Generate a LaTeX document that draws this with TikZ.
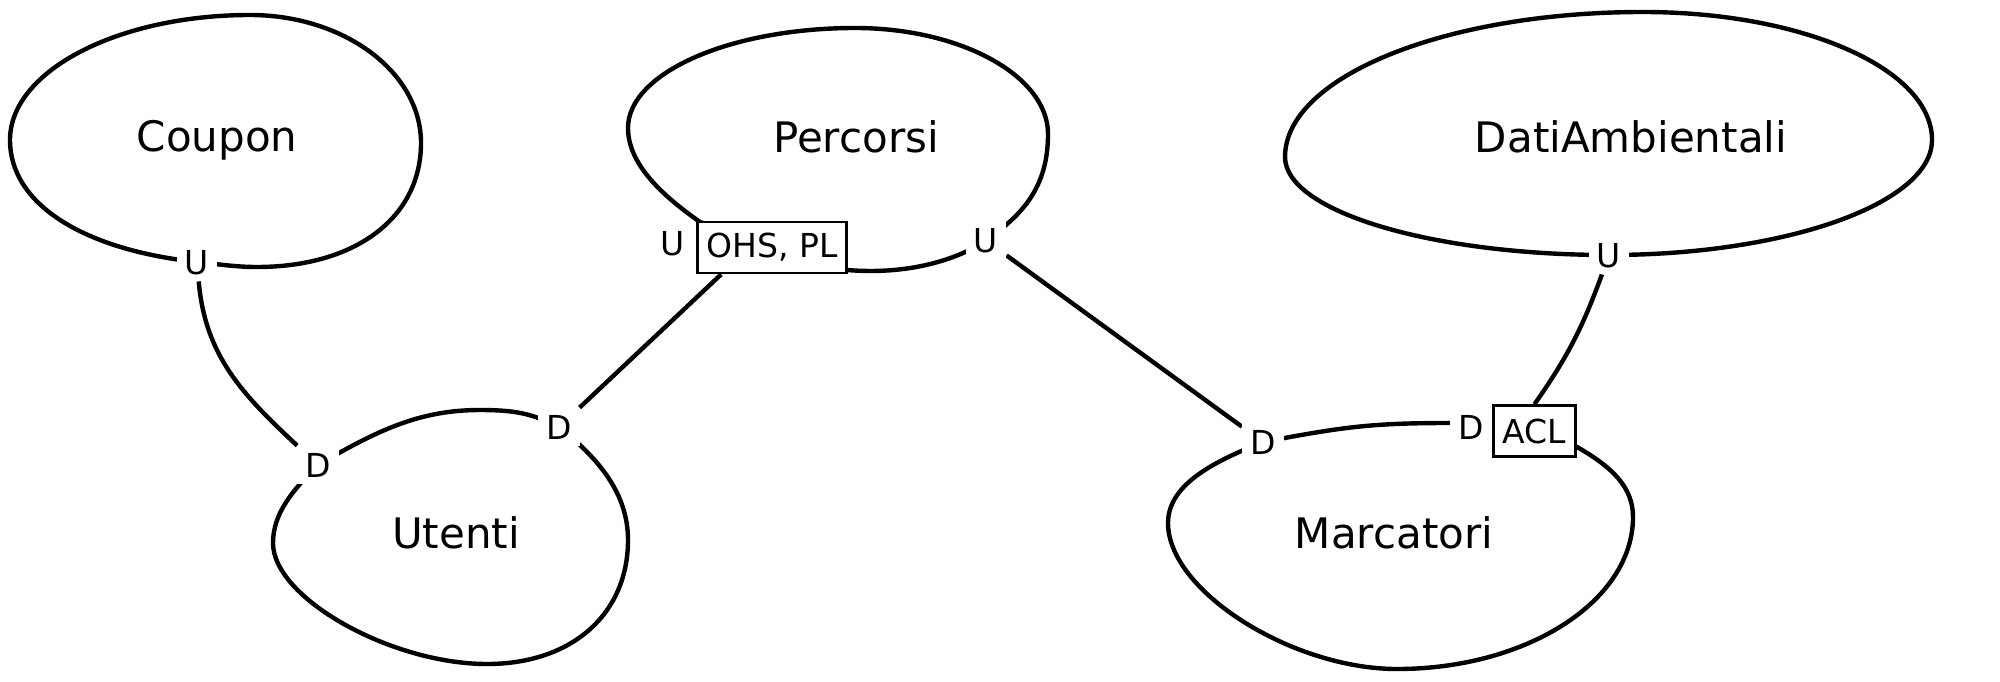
\documentclass[tikz,border=0pt]{standalone}
\usepackage{fontspec}
\setmainfont{DejaVu Sans}
\usetikzlibrary{backgrounds}

\begin{document}
\begin{tikzpicture}[
   x=0.5pt, y=0.5pt,
   entity/.style={font=\fontsize{21}{25}\selectfont, anchor=base},
   port/.style={font=\fontsize{16.5}{20}\selectfont, fill=white,
                inner xsep=4pt, inner ysep=3.5pt, text depth=0pt},
   tag/.style={draw, line width=1.35pt, fill=white,
               font=\fontsize{16.5}{20}\selectfont,
               inner xsep=4.5pt, minimum height=25.5pt},
   blob/.style={line width=2.2pt},
   link/.style={line width=2.2pt}]

\useasboundingbox (0,0) rectangle (2000,681);

\node[entity] (coupon)    at (217,529)  {Coupon};
\node[entity] (percorsi)  at (856,528)  {Percorsi};
\node[entity] (dati)      at (1631,528) {DatiAmbientali};
\node[entity] (utenti)    at (456,133)  {Utenti};
\node[entity] (marcatori) at (1394,133) {Marcatori};

\node[port] (cU)  at (197,419)    {U};
\node[port] (uD1) at (318,216)    {D};
\node[port] (uD2) at (559,254)    {D};
\node[port] (pUl) at (673,437.5)  {U};
\node[tag]  (pBox) at (772,433.5) {OHS, PL};
\node[port] (pU)  at (986,440.5)  {U};
\node[port] (mD1) at (1263,239)   {D};
\node[port] (mD2) at (1471,253.5) {D};
\node[tag]  (mBox) at (1534.5,250) {ACL};
\node[port] (dU)  at (1609,426)   {U};

\begin{pgfonlayer}{background}
\draw[blob] (cU.center) .. controls +(-112,12) and +(0,-65) .. (10,541)
    .. controls +(0,69) and +(-132,0) .. (250,666)
    .. controls +(94,0) and +(0,71) .. (421,538)
    .. controls +(0,-75) and +(98,0) .. (257,414)
    .. controls +(-22,0) and +(20,-2) .. (cU.center);
\draw[blob] (uD1.center) .. controls +(60,35) and +(-60,0) .. (480,271)
    .. controls +(40,0) and +(-25,12) .. (uD2.center)
    .. controls +(35,-28) and +(0,50) .. (628,141)
    .. controls +(0,-74) and +(85,0) .. (487,17)
    .. controls +(-96,0) and +(0,-55) .. (273,138)
    .. controls +(0,30) and +(-25,-25) .. (uD1.center);
\draw[blob] (pBox.center) -- (700,459)
    .. controls +(-40,28) and +(0,-35) .. (628,553)
    .. controls +(0,55) and +(-125,0) .. (855,653)
    .. controls +(106,0) and +(0,58) .. (1048,547)
    .. controls +(0,-55) and +(35,25) .. (pU.center)
    .. controls +(-30,-20) and +(60,-5) .. (847,411) -- (pBox.center);
\draw[blob] (mD1.center) .. controls +(80,15) and +(-80,0) .. (1450,258)
    -- (mBox.center) -- (1577,234)
    .. controls +(35,-20) and +(0,30) .. (1633,164)
    .. controls +(0,-84) and +(130,0) .. (1397,12)
    .. controls +(-105,0) and +(0,-68) .. (1168,158)
    .. controls +(0,40) and +(-45,-18) .. (mD1.center);
\draw[blob] (dU.center) .. controls +(-179,0) and +(0,-54) .. (1285,524)
    .. controls +(0,80) and +(-198,0) .. (1643,669)
    .. controls +(160,0) and +(0,71) .. (1932,541)
    .. controls +(0,-63) and +(178,0) .. (dU.center);

\draw[link] (cU) to[out=-85,in=137] (uD1);
\draw[link] ([xshift=12.5pt]pBox.south west) -- (uD2);
\draw[link] (pU) -- (mD1);
\draw[link] (dU) to[out=-110,in=55] (mBox.north);
\end{pgfonlayer}

\end{tikzpicture}
\end{document}
